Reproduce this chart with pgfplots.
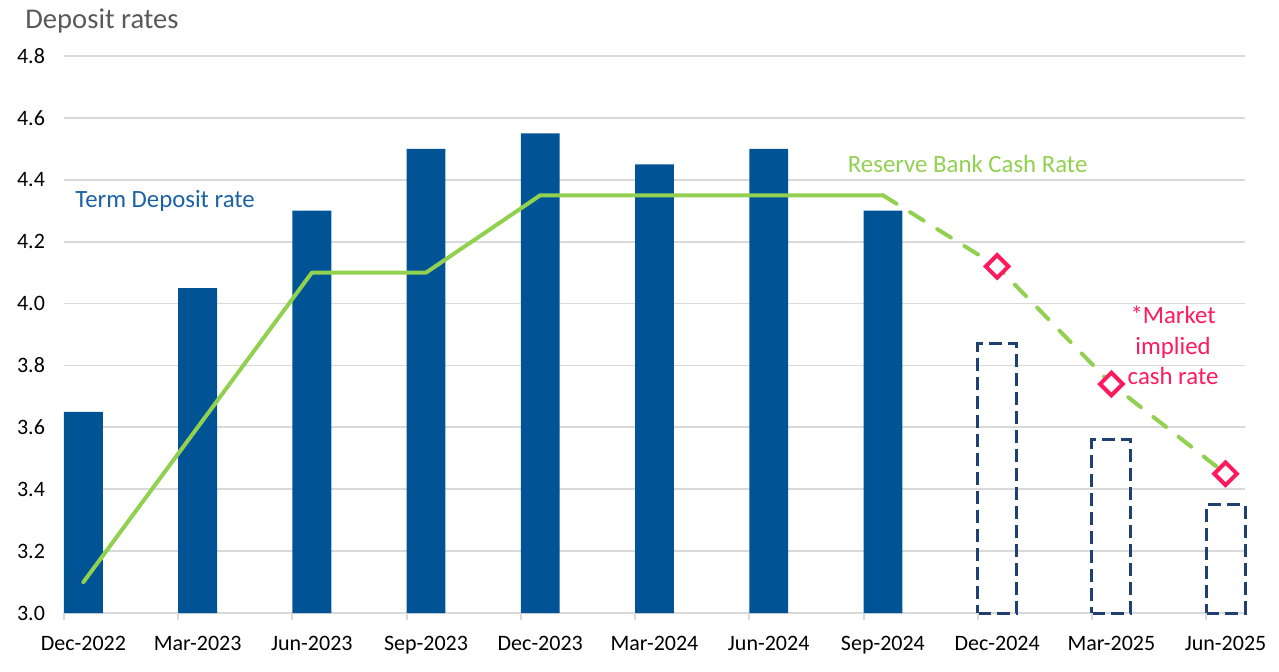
\documentclass[border=0pt]{standalone}
\usepackage{fontspec}
\setmainfont{Carlito}
\usepackage{pgfplots}
\pgfplotsset{compat=1.18}

\definecolor{tdblue}{HTML}{005496}
\definecolor{tdtext}{HTML}{1A62A6}
\definecolor{fcnavy}{HTML}{1F4070}
\definecolor{rbagreen}{HTML}{92D050}
\definecolor{mktpink}{HTML}{FF1A5E}
\definecolor{gridgray}{HTML}{D9D9D9}
\definecolor{titlegray}{HTML}{595959}

\begin{document}
\begin{tikzpicture}
\useasboundingbox (-32pt,-29pt) rectangle (607.5pt,306.5pt);
\begin{axis}[
    scale only axis,
    width=590.5pt, height=278.5pt,
    at={(0pt,0pt)}, anchor=south west,
    xmin=-0.17, xmax=10.17,
    ymin=3.0, ymax=4.8,
    ytick={3.0,3.2,3.4,3.6,3.8,4.0,4.2,4.4,4.6,4.8},
    % ticks sit at the left edge of each bar, labels are moved to bar centres
    xtick={-0.17,0.83,1.83,2.83,3.83,4.83,5.83,6.83,7.83,8.83,9.83},
    xticklabels={Dec-2022,Mar-2023,Jun-2023,Sep-2023,Dec-2023,Mar-2024,Jun-2024,Sep-2024,Dec-2024,Mar-2025,Jun-2025},
    major tick length=3.5pt,
    tick align=outside,
    xtick pos=left,
    ytick pos=left,
    xtick style={gridgray, line width=1pt},
    ytick style={draw=none},
    ymajorgrids,
    major grid style={gridgray, line width=0.9pt},
    axis x line*=bottom,
    axis y line*=left,
    x axis line style={gridgray, line width=0.9pt, -},
    y axis line style={draw=none, -},
    tick label style={font=\fontsize{11}{13}\selectfont, black},
    /pgf/number format/fixed,
    /pgf/number format/fixed zerofill,
    /pgf/number format/precision=1,
    /pgf/number format/assume math mode=true,
    yticklabel style={xshift=-2.5pt},
    xticklabel style={xshift=9.7pt, yshift=-4.5pt},
    clip=false,
]
% term deposit bars
\addplot[ybar, bar width=0.34, fill=tdblue, draw=none] coordinates {
  (0,3.65) (1,4.05) (2,4.30) (3,4.50) (4,4.55) (5,4.45) (6,4.50) (7,4.30)
};
% forecast term deposit bars
\addplot[ybar, bar width=0.34, fill=none, draw=fcnavy, line width=1.5pt,
  dash pattern=on 6.5pt off 3pt] coordinates {
  (8,3.87) (9,3.56) (10,3.35)
};
% reserve bank cash rate
\addplot[rbagreen, line width=2pt, line join=round, line cap=round] coordinates {
  (0,3.10) (1,3.60) (2,4.10) (3,4.10) (4,4.35) (5,4.35) (6,4.35) (7,4.35)
};
\addplot[rbagreen, line width=2pt, line cap=round, dash pattern=on 8pt off 8pt] coordinates {
  (7,4.35) (8,4.12) (9,3.74) (10,3.45)
};
% market implied cash rate
\addplot[only marks, mark=square*, mark size=4pt,
  mark options={draw=mktpink, fill=white, line width=2pt, rotate=45}] coordinates {
  (8,4.12) (9,3.74) (10,3.45)
};
% small tick marks below the axis line
\pgfplotsinvokeforeach{-0.17,0.83,1.83,2.83,3.83,4.83,5.83,6.83,7.83,8.83,9.83}{
  \draw[gridgray, line width=1pt] (axis cs:#1,3.0) -- ++(0pt,-3.5pt);
}
\node[anchor=base west, text=tdtext, font=\fontsize{12.4}{14}\selectfont, inner sep=0pt]
  at (axis cs:-0.074,4.312) {Term Deposit rate};
\node[anchor=base west, text=rbagreen, font=\fontsize{12.4}{14}\selectfont, inner sep=0pt]
  at (axis cs:6.69,4.425) {Reserve Bank Cash Rate};
\node[anchor=base, text=mktpink, font=\fontsize{12.4}{14}\selectfont, inner sep=0pt]
  at (axis cs:9.54,3.934) {*Market};
\node[anchor=base, text=mktpink, font=\fontsize{12.4}{14}\selectfont, inner sep=0pt]
  at (axis cs:9.54,3.837) {implied};
\node[anchor=base, text=mktpink, font=\fontsize{12.4}{14}\selectfont, inner sep=0pt]
  at (axis cs:9.54,3.740) {cash rate};
\end{axis}
\node[anchor=base west, text=titlegray, font=\fontsize{14.3}{16}\selectfont, inner sep=0pt]
  at (-19.5pt,292pt) {Deposit rates};
\end{tikzpicture}
\end{document}
